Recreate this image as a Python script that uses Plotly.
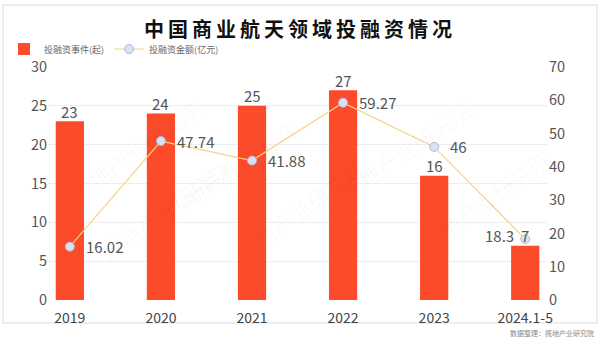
import plotly.graph_objects as go

categories = ["2019", "2020", "2021", "2022", "2023", "2024.1-5"]
events = [23, 24, 25, 27, 16, 7]
amounts = [16.02, 47.74, 41.88, 59.27, 46, 18.3]
amount_labels = ["16.02", "47.74", "41.88", "59.27", "46", "18.3"]
left_ticks = [0, 5, 10, 15, 20, 25, 30]
right_ticks = [0, 10, 20, 30, 40, 50, 60, 70]

FONT = "Noto Sans CJK SC"
W, H = 600, 337
L, R, T, B = 48, 52, 67, 37
pw, ph = W - L - R, H - T - B

def px(x):
    return (x - L) / pw

def py(y):
    return (H - B - y) / ph

xs = list(range(len(categories)))

fig = go.Figure()
fig.add_trace(go.Bar(
    x=xs, y=events, name="投融资事件(起)",
    marker=dict(color="#fb4b2a", line=dict(width=0)), width=0.31,
    yaxis="y",
))
fig.add_trace(go.Scatter(
    x=xs, y=amounts, name="投融资金额(亿元)",
    mode="lines+markers",
    line=dict(color="#f6d47e", width=1.2),
    marker=dict(size=9, color="#d9e2f2", line=dict(color="#a8bce0", width=1)),
    cliponaxis=False, yaxis="y2",
))

shapes = [dict(
    type="rect", xref="paper", yref="paper",
    x0=px(3), x1=px(597), y0=py(323), y1=py(5),
    line=dict(color="#dddddd", width=1), fillcolor="rgba(0,0,0,0)", layer="below",
)]

annotations = []
for xv, ev in zip(xs, events):
    annotations.append(dict(
        text=str(ev), x=xv, y=ev, xref="x", yref="y", showarrow=False,
        xanchor="center", yanchor="middle", yshift=10,
        font=dict(size=15, color="#555555", family=FONT),
    ))
n = len(xs)
for i, (xv, yv, lab) in enumerate(zip(xs, amounts, amount_labels)):
    last = i == n - 1
    annotations.append(dict(
        text=lab, x=xv, y=yv, xref="x", yref="y2", showarrow=False,
        xanchor="right" if last else "left", yanchor="middle",
        xshift=-9 if last else 14, yshift=4 if last else 0,
        font=dict(size=15, color="#555555", family=FONT),
    ))

annotations.append(dict(
    text="数据整理：揽地产业研究院", xref="paper", yref="paper",
    x=px(596), y=py(333), xanchor="right", yanchor="middle", showarrow=False,
    font=dict(size=7, color="#888888", family=FONT),
))
for (wx, wy) in [(60, 90), (230, 110), (480, 90), (90, 270), (300, 270), (560, 200)]:
    annotations.append(dict(
        text="揽地产业研究院", xref="paper", yref="paper",
        x=px(wx), y=py(wy), showarrow=False, textangle=-35,
        font=dict(size=22, color="rgba(0,0,0,0.03)", family=FONT),
    ))

fig.update_layout(
    width=W, height=H,
    margin=dict(l=L, r=R, t=T, b=B, autoexpand=False),
    paper_bgcolor="white", plot_bgcolor="white",
    title=dict(text='<span style="letter-spacing:4px"><b>中国商业航天领域投融资情况</b></span>',
               x=0.5, xanchor="center",
               y=1 - 30 / H, yanchor="middle", yref="container",
               font=dict(size=20, color="#111111", family=FONT)),
    font=dict(family=FONT, color="#555555"),
    showlegend=True,
    legend=dict(orientation="h", xref="container", yref="container",
                x=4 / W, y=1 - 49 / H, xanchor="left", yanchor="middle",
                font=dict(size=9, color="#666666", family=FONT),
                bgcolor="rgba(0,0,0,0)", itemwidth=30, tracegroupgap=0),
    xaxis=dict(tickmode="array", tickvals=xs, ticktext=categories,
               range=[-0.24, 5.25], showgrid=False, zeroline=False, showline=False,
               ticks="", tickfont=dict(size=14, color="#444444", family=FONT),
               ticklabelstandoff=8),
    yaxis=dict(range=[0, 30], tickvals=left_ticks, showgrid=True, gridcolor="#eeeeee",
               gridwidth=1, zeroline=False, showline=False, ticks="",
               tickfont=dict(size=14.5, color="#555555", family=FONT)),
    yaxis2=dict(range=[0, 70], tickvals=right_ticks, overlaying="y", side="right",
                showgrid=False, zeroline=False, showline=False, ticks="",
                tickfont=dict(size=14.5, color="#555555", family=FONT)),
    shapes=shapes, annotations=annotations,
)

fig.write_html("out.html")
